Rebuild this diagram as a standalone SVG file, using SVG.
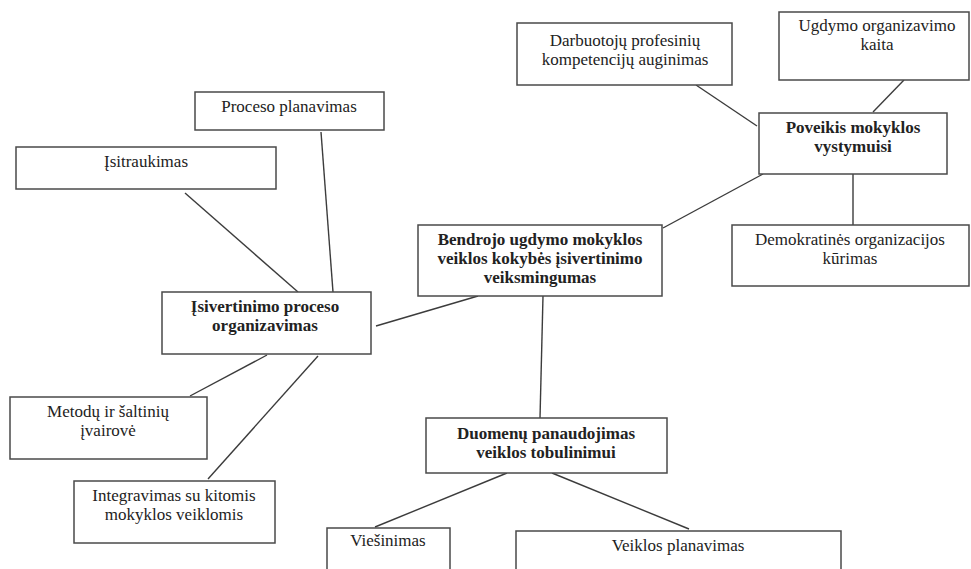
<svg xmlns="http://www.w3.org/2000/svg" width="971" height="569" viewBox="0 0 971 569">
<style>
.box{fill:#fff;stroke:#4a4a4a;stroke-width:1.5}
.t{font-family:"Liberation Serif","Times New Roman",serif;font-size:17px;fill:#222;text-anchor:middle}
.b{font-weight:bold}
.c line{stroke:#3c3c3c;stroke-width:1.4}
</style>
<rect width="971" height="569" fill="#fff"/>
<g class="c" id="connectors">
<line x1="185" y1="193" x2="298" y2="292"/>
<line x1="321" y1="132" x2="333" y2="292"/>
<line x1="376" y1="326" x2="478" y2="296"/>
<line x1="267" y1="355" x2="190" y2="396"/>
<line x1="318" y1="356" x2="208" y2="479"/>
<line x1="763" y1="174" x2="663" y2="228"/>
<line x1="696" y1="85" x2="757" y2="126"/>
<line x1="904" y1="80" x2="873" y2="112"/>
<line x1="853" y1="174" x2="853" y2="225"/>
<line x1="543" y1="296" x2="540" y2="418"/>
<line x1="507" y1="473" x2="375" y2="527"/>
<line x1="552" y1="473" x2="689" y2="529"/>
</g>
<g id="central">
<rect class="box" x="418" y="225" width="244" height="71"/>
<text class="t b" x="540" y="245">Bendrojo ugdymo mokyklos</text>
<text class="t b" x="540" y="264">veiklos kokybės įsivertinimo</text>
<text class="t b" x="540" y="283">veiksmingumas</text>
</g>
<g id="organizavimas">
<rect class="box" x="162" y="292" width="209" height="62"/>
<text class="t b" x="265" y="312">Įsivertinimo proceso</text>
<text class="t b" x="265" y="331">organizavimas</text>
</g>
<g id="planavimas">
<rect class="box" x="195" y="92" width="189" height="38"/>
<text class="t" x="289" y="112">Proceso planavimas</text>
</g>
<g id="isitraukimas">
<rect class="box" x="16" y="147" width="260" height="42"/>
<text class="t" x="146" y="167">Įsitraukimas</text>
</g>
<g id="metodai">
<rect class="box" x="10" y="397" width="197" height="62"/>
<text class="t" x="108" y="417">Metodų ir šaltinių</text>
<text class="t" x="108" y="436">įvairovė</text>
</g>
<g id="integravimas">
<rect class="box" x="74" y="481" width="201" height="62"/>
<text class="t" x="174" y="501">Integravimas su kitomis</text>
<text class="t" x="174" y="520">mokyklos veiklomis</text>
</g>
<g id="poveikis">
<rect class="box" x="759" y="113" width="188" height="61"/>
<text class="t b" x="853" y="133">Poveikis mokyklos</text>
<text class="t b" x="853" y="152">vystymuisi</text>
</g>
<g id="darbuotoju">
<rect class="box" x="517" y="23" width="215" height="62"/>
<text class="t" x="625" y="46">Darbuotojų profesinių</text>
<text class="t" x="625" y="65">kompetencijų auginimas</text>
</g>
<g id="ugdymo">
<rect class="box" x="779" y="12" width="190" height="68"/>
<text class="t" x="877" y="31">Ugdymo organizavimo</text>
<text class="t" x="877" y="50">kaita</text>
</g>
<g id="demokratines">
<rect class="box" x="732" y="225" width="237" height="61"/>
<text class="t" x="850" y="245">Demokratinės organizacijos</text>
<text class="t" x="850" y="264">kūrimas</text>
</g>
<g id="duomenu">
<rect class="box" x="426" y="418" width="241" height="55"/>
<text class="t b" x="546" y="439">Duomenų panaudojimas</text>
<text class="t b" x="546" y="458">veiklos tobulinimui</text>
</g>
<g id="viesinimas">
<rect class="box" x="327" y="528" width="123" height="50"/>
<text class="t" x="388" y="546">Viešinimas</text>
</g>
<g id="veiklos-planavimas">
<rect class="box" x="516" y="531" width="325" height="50"/>
<text class="t" x="678" y="551">Veiklos planavimas</text>
</g>
</svg>
